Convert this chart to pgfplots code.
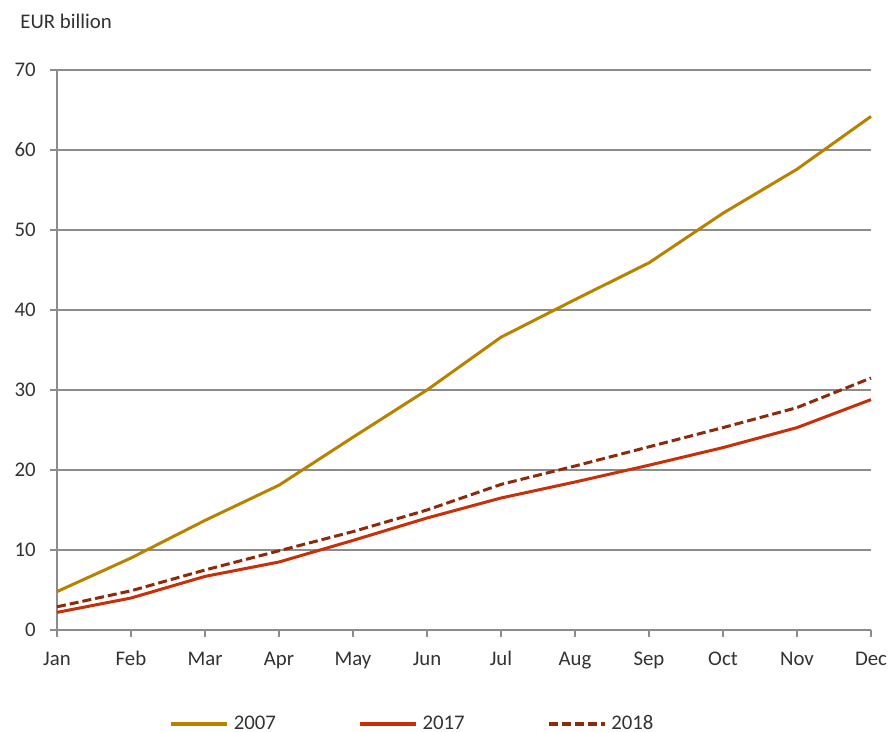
\documentclass[border=0pt]{standalone}
\usepackage{pgfplots}
\pgfplotsset{compat=1.18}
\usepackage{fontspec}
\setmainfont{Carlito}

\definecolor{c2007}{RGB}{184,130,0}
\definecolor{c2017}{RGB}{200,48,10}
\definecolor{c2018}{RGB}{140,42,10}
\definecolor{axisgray}{RGB}{140,140,140}
\definecolor{txt}{RGB}{50,50,50}

\begin{document}
\fontsize{10.4}{12.5}\selectfont
\begin{tikzpicture}
\path[use as bounding box] (0pt,0pt) rectangle (444pt,-366pt);
\node[anchor=base west, inner sep=0pt, text=txt] at (10pt,-14.5pt) {EUR billion};
\begin{axis}[
  at={(28.5pt,-315pt)}, anchor=south west,
  scale only axis, width=407pt, height=280pt,
  xmin=0, xmax=11, ymin=0, ymax=70,
  xtick={0,...,11},
  xticklabels={Jan,Feb,Mar,Apr,May,Jun,Jul,Aug,Sep,Oct,Nov,Dec},
  ytick={0,10,...,70},
  axis x line=bottom, axis y line=left,
  axis line style={draw=axisgray, line width=0.7pt, -},
  tick style={draw=axisgray, line width=0.6pt},
  tick align=outside, major tick length=3.5pt,
  ymajorgrids, grid style={draw=axisgray, line width=0.55pt},
  tick label style={text=txt, font=\fontsize{10.4}{12.5}\selectfont},
  /pgf/number format/assume math mode=true,
  xticklabel style={inner sep=0pt, text height=1.6ex, text depth=0.4ex, anchor=north, yshift=-6pt},
  yticklabel style={inner sep=0pt, anchor=east, xshift=-7pt},
  legend columns=3,
  legend style={draw=none, fill=none, inner sep=0pt, outer sep=0pt,
    at={(0.1378,-0.168)}, anchor=west,
    nodes={inner sep=0pt, text=txt},
    /tikz/every odd column/.append style={column sep=2.5pt},
    /tikz/every even column/.append style={column sep=41pt}},
  legend image code/.code={\draw[#1, line width=1.8pt] (0pt,0pt) -- (28pt,0pt);},
  clip=false,
]
\addplot[c2007, line width=1.5pt, line join=round] coordinates {
 (0,4.8) (1,9.0) (2,13.7) (3,18.1) (4,24.1) (5,30.0)
 (6,36.6) (7,41.3) (8,45.9) (9,52.1) (10,57.6) (11,64.2)};
\addlegendentry{2007}
\addplot[c2017, line width=1.5pt, line join=round] coordinates {
 (0,2.2) (1,4.0) (2,6.7) (3,8.5) (4,11.2) (5,14.0)
 (6,16.5) (7,18.5) (8,20.6) (9,22.8) (10,25.3) (11,28.8)};
\addlegendentry{2017}
\addplot[c2018, line width=1.5pt, line join=round, dash pattern=on 4.5pt off 2pt] coordinates {
 (0,2.9) (1,4.9) (2,7.5) (3,9.9) (4,12.3) (5,15.0)
 (6,18.2) (7,20.5) (8,22.9) (9,25.3) (10,27.8) (11,31.5)};
\addlegendentry{2018}
\end{axis}
\end{tikzpicture}
\end{document}
